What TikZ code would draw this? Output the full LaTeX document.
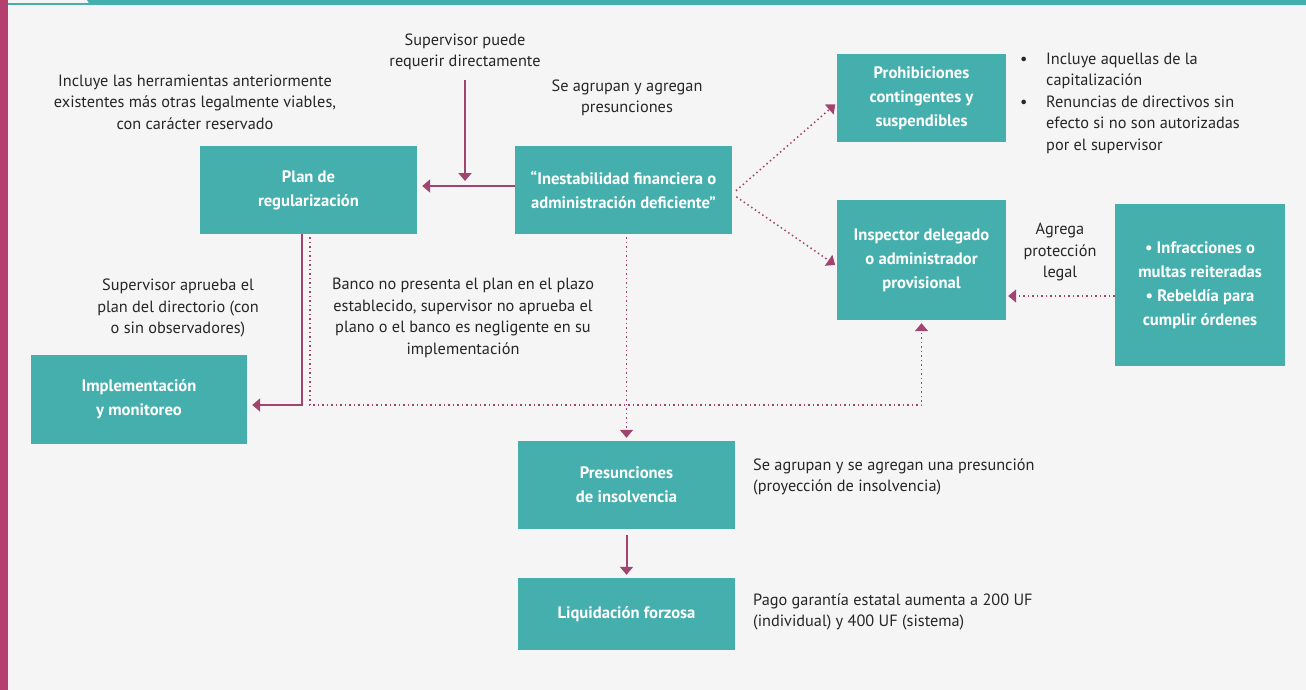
\documentclass[tikz,border=0pt]{standalone}
\usepackage{fontspec}
\setmainfont{PT Sans}
\usetikzlibrary{arrows.meta,positioning}
\definecolor{verde}{HTML}{45AFAD}
\definecolor{vino}{HTML}{A0456F}
\definecolor{barra}{HTML}{B5406F}
\definecolor{fondo}{HTML}{F5F5F5}
\definecolor{tinta}{HTML}{262626}
\tikzset{
  caja/.style={fill=verde, text=white, align=center, inner sep=0pt,
    font=\fontsize{16.6}{24}\selectfont\bfseries},
  nota/.style={text=tinta, align=center, inner sep=0pt,
    font=\fontsize{16.3}{21.5}\selectfont},
  flecha/.style={vino, line width=2pt, -{Triangle[width=13pt,length=8pt]}},
  puntos/.style={vino, line width=1.5pt, dash pattern=on 1.5pt off 3pt,
    -{Triangle[width=13pt,length=8pt]}},
}
\begin{document}
\begin{tikzpicture}[x=1pt,y=-1pt]
    \fill[fondo] (0,0) rectangle (1306,690);
    \useasboundingbox (0,0) rectangle (1306,690);
    \fill[barra] (0,0) rectangle (8,690);
    \fill[verde] (8,3.5) rectangle (90,5);
    \fill[verde] (87,0) -- (1306,0) -- (1306,5) -- (90,5) -- cycle;

    % cajas
    \node[caja, minimum width=217, minimum height=88] (plan) at (308.5,190) {Plan de\\regularización};
    \node[caja, minimum width=217, minimum height=88] (inest) at (623.5,190) {“Inestabilidad financiera o\\administración deficiente”};
    \node[caja, minimum width=169, minimum height=88] (prohib) at (921.5,98) {Prohibiciones\\contingentes y\\suspendibles};
    \node[caja, minimum width=169, minimum height=120] (insp) at (921.5,260) {Inspector delegado\\o administrador\\provisional};
    \node[caja, minimum width=170, minimum height=162] (infr) at (1200,285) {• Infracciones o\\multas reiteradas\\• Rebeldía para\\cumplir órdenes};
    \node[caja, minimum width=216, minimum height=89] (impl) at (139,399.5) {Implementación\\y monitoreo};
    \node[caja, minimum width=217, minimum height=88] (pres) at (626.5,485) {Presunciones\\de insolvencia};
    \node[caja, minimum width=217, minimum height=72] (liq) at (626.5,614) {Liquidación forzosa};

    % textos
    \node[nota] (herr) at (195,102) {Incluye las herramientas anteriormente\\existentes más otras legalmente viables,\\con carácter reservado};
    \node[nota] (req) at (465,52) {Supervisor puede\\requerir directamente};
    \node[nota] (agrup) at (627,98) {Se agrupan y agregan\\presunciones};
    \node[nota, align=left, anchor=north west] (lista) at (1020,49) {%
      \begin{tabular}{@{}p{26pt}@{}l@{}}
        \textbullet & Incluye aquellas de la\\
        & capitalización\\
        \textbullet & Renuncias de directivos sin\\
        & efecto si no son autorizadas\\
        & por el supervisor
      \end{tabular}};
    \node[nota] (proteg) at (1060,252) {Agrega\\protección\\legal};
    \node[nota] (aprueba) at (178,308) {Supervisor aprueba el\\plan del directorio (con\\o sin observadores)};
    \node[nota] (banco) at (463,318) {Banco no presenta el plan en el plazo\\establecido, supervisor no aprueba el\\plano o el banco es negligente en su\\implementación};
    \node[nota, align=left, anchor=west] (proy) at (753,477) {Se agrupan y se agregan una presunción\\(proyección de insolvencia)};
    \node[nota, align=left, anchor=west] (pago) at (753,612) {Pago garantía estatal aumenta a 200 UF\\(individual) y 400 UF (sistema)};

    % conectores
    \coordinate (cruce) at (465,186);
    \draw[flecha] (inest.west |- cruce) -- ([yshift=4pt]plan.east) [shorten >=5pt];
    \draw[flecha, shorten <=10pt, shorten >=5pt] (req.south) -- (cruce);
    \draw[flecha, shorten >=5pt] ([xshift=-6.5pt]plan.south) |- ([yshift=-5.5pt]impl.east);
    \draw[puntos, shorten <=3pt, shorten >=3pt] ([xshift=1.5pt]plan.south) -- ++(0,171) -| (insp.south);
    \draw[puntos, shorten <=3pt, shorten >=3pt] (pres.north |- inest.south) -- (pres.north);
    \draw[puntos, shorten <=5pt, shorten >=2pt] ([yshift=-4pt]inest.east) -- ([yshift=-5pt]prohib.west);
    \draw[puntos, shorten <=5pt, shorten >=2pt] ([yshift=-4pt]inest.east) -- ([yshift=-6pt]insp.west);
    \draw[puntos, shorten >=2pt] ([yshift=-11pt]infr.west) -- ([yshift=-11pt]infr.west -| insp.east);
    \draw[flecha, shorten <=6pt, shorten >=3pt] (pres.south) -- (liq.north);
\end{tikzpicture}
\end{document}
